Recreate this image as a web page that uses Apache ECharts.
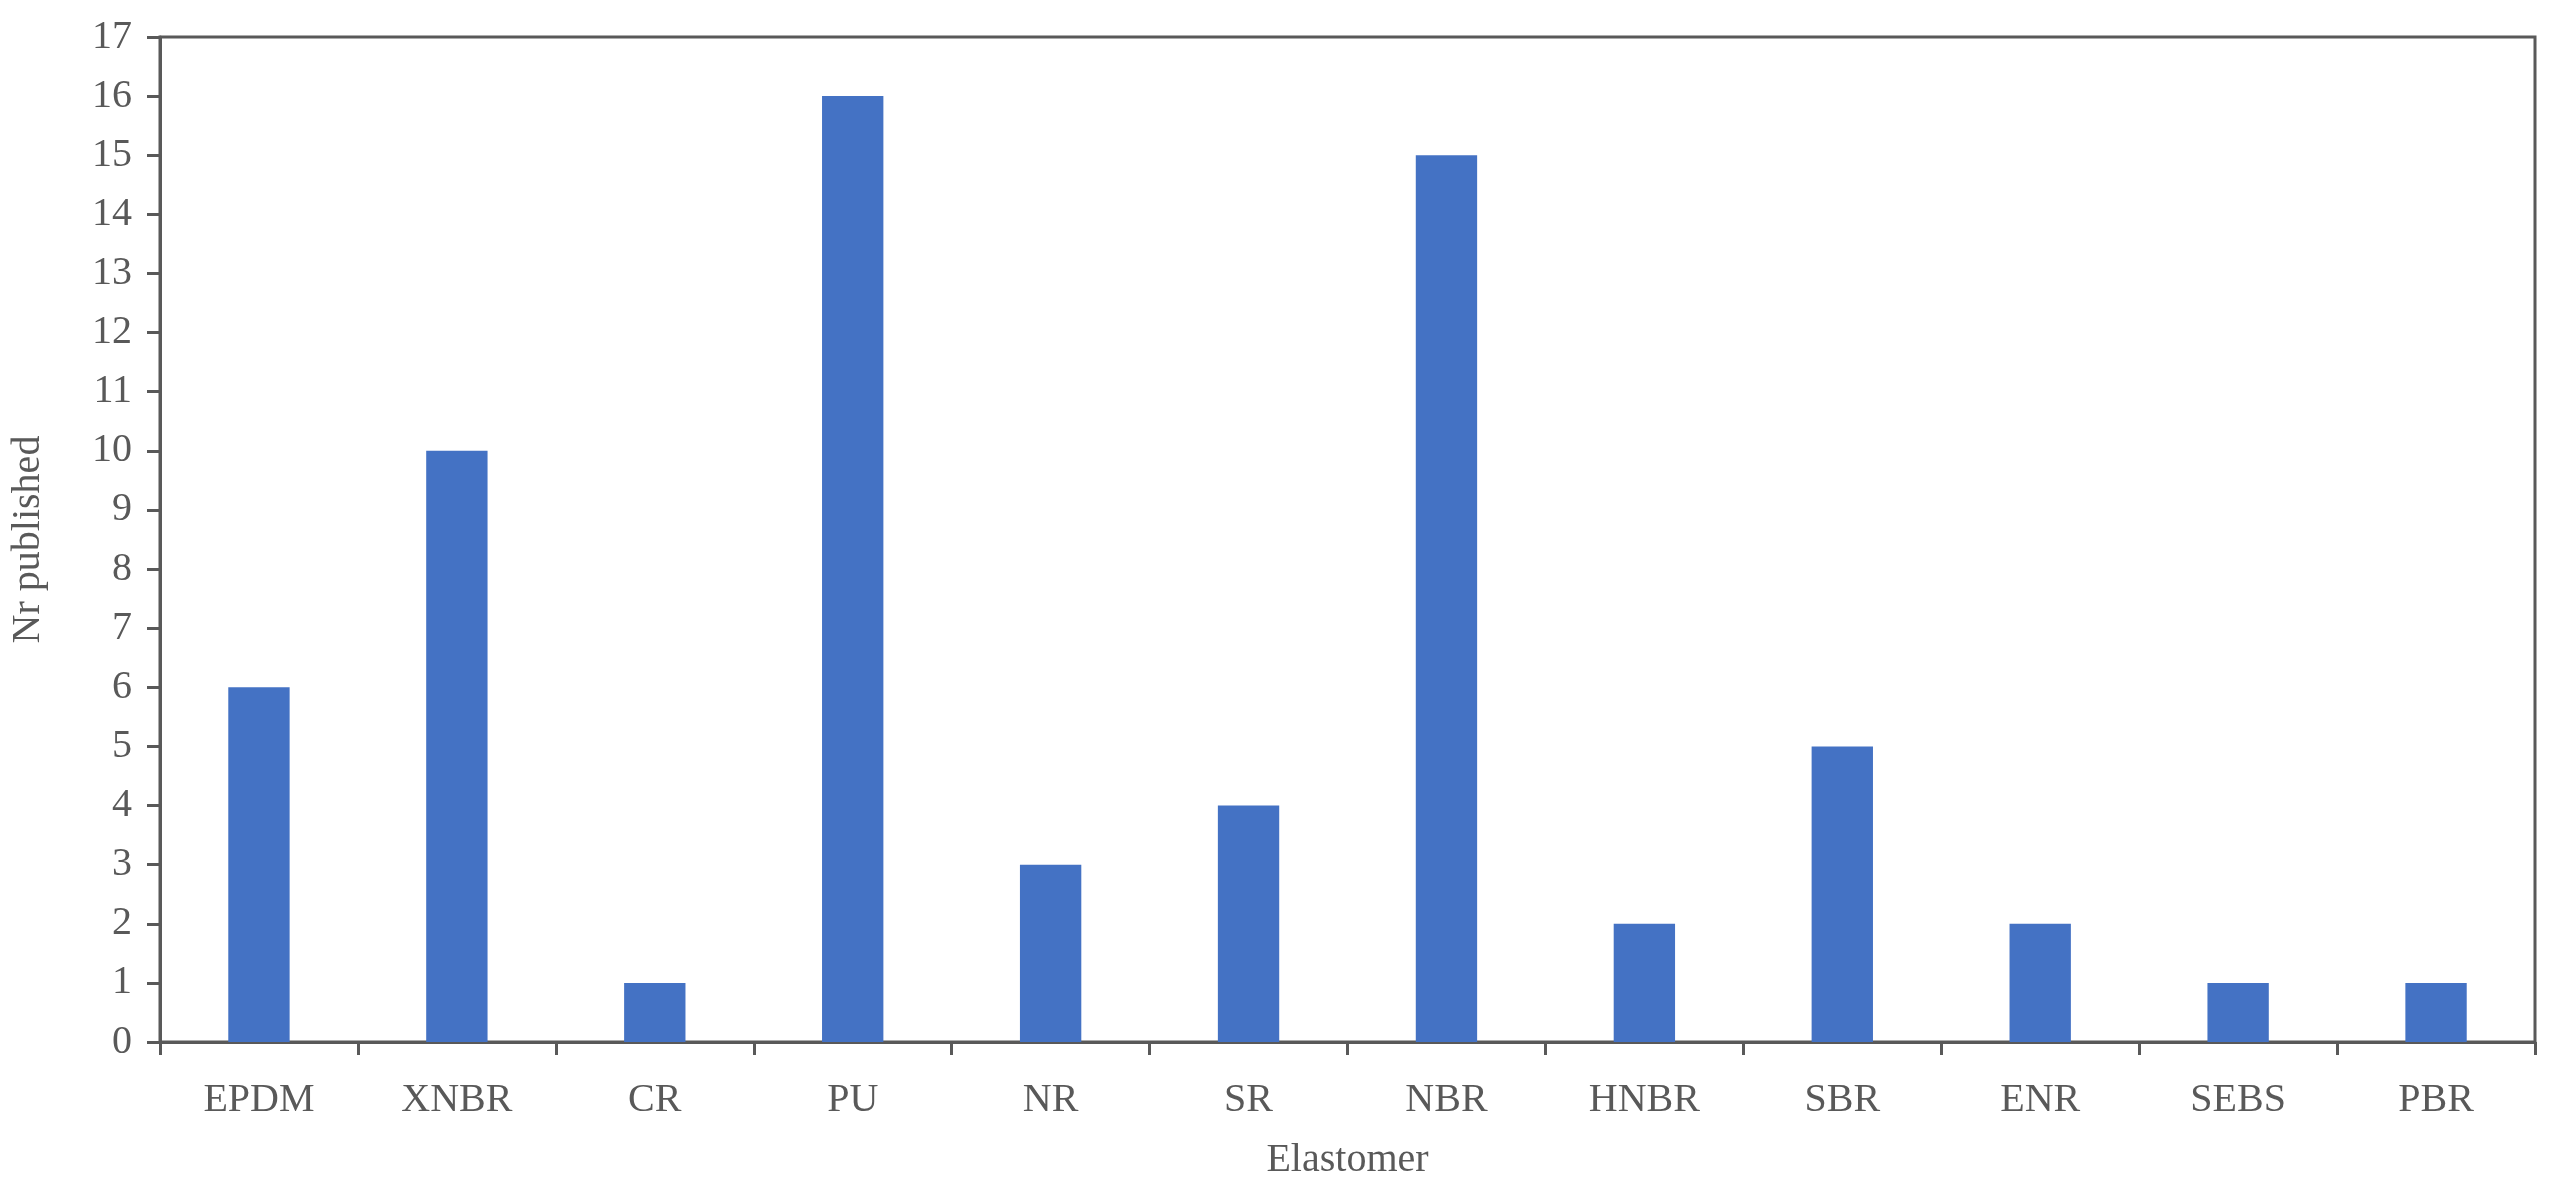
<!DOCTYPE html>
<html>
<head>
<meta charset="utf-8">
<script src="https://cdn.jsdelivr.net/npm/echarts@6/dist/echarts.min.js"></script>
<style>html,body{margin:0;padding:0;background:#fff}#chart{width:2550px;height:1191px}</style>
</head>
<body>
<div id="chart"></div>
<script>
const categories = ['EPDM', 'XNBR', 'CR', 'PU', 'NR', 'SR', 'NBR', 'HNBR', 'SBR', 'ENR', 'SEBS', 'PBR']
const counts = [6, 10, 1, 16, 3, 4, 15, 2, 5, 2, 1, 1]

const font = 'Liberation Serif, Times New Roman, serif'
const chart = echarts.init(document.getElementById('chart'))
chart.setOption({
  animation: false,
  grid: {left: 153, right: 15, top: 37, bottom: 149, show: true, borderColor: '#595959', borderWidth: 3, containLabel: false},
  xAxis: {
    type: 'category',
    data: categories,
    name: 'Elastomer',
    nameLocation: 'middle',
    nameGap: 98,
    nameTextStyle: {fontFamily: font, fontSize: 40, color: '#595959'},
    axisLine: {lineStyle: {color: '#595959', width: 3}},
    axisTick: {show: true, alignWithLabel: false, length: 13, lineStyle: {color: '#595959', width: 3}},
    axisLabel: {fontFamily: font, fontSize: 40, color: '#595959', margin: 38}
  },
  yAxis: {
    type: 'value',
    min: 0,
    max: 17,
    interval: 1,
    name: 'Nr published',
    nameLocation: 'middle',
    nameGap: 112,
    nameTextStyle: {fontFamily: font, fontSize: 40, color: '#595959'},
    axisLine: {show: true, lineStyle: {color: '#595959', width: 3}},
    axisTick: {show: true, length: 13, lineStyle: {color: '#595959', width: 3}},
    splitLine: {show: false},
    axisLabel: {fontFamily: font, fontSize: 40, color: '#595959', margin: 28}
  },
  series: [{
    type: 'bar',
    data: counts,
    barWidth: '31%',
    itemStyle: {color: '#4472C4'}
  }]
})
</script>
</body>
</html>
